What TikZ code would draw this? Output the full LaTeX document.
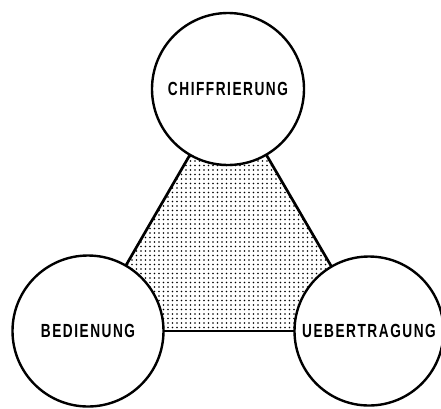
\documentclass[tikz,border=0pt]{standalone}
\usepackage{fontspec}
\newfontfamily\labelfont[FakeStretch=0.72,LetterSpace=8]{Liberation Sans}
\usetikzlibrary{backgrounds}
\tikzset{
  unit/.style={circle, draw=black, line width=2.4pt, fill=white,
    inner sep=0pt, text height=13.6pt, text depth=0pt,
    font=\labelfont\bfseries\fontsize{19}{19}\selectfont},
  edge/.style={draw=black, line width=2.7pt, line join=miter},
  dot/.style={fill=black}
}
\begin{document}
\begin{tikzpicture}[x=1pt, y=-1pt]
  \useasboundingbox (0,0) rectangle (441,408);

  % the three units
  \node[unit, minimum size=152pt] (chiff) at (228,89) {CHIFFRIERUNG};
  \node[unit, minimum size=151pt] (bed)   at (88,331)  {BEDIENUNG};
  \node[unit, minimum size=149pt] (ueb)   at (369,331) {UEBERTRAGUNG};

  % dotted triangle linking the units, behind them
  \begin{scope}[on background layer]
    \begin{scope}
      \clip (chiff.center) -- (bed.center) -- (ueb.center) -- cycle;
      \foreach \i in {0,...,64} {
        \foreach \j in {0,...,55} {
          \fill[dot] (87+\i*4.5, 89+\j*4.5) circle (0.85);
        }
      }
    \end{scope}
    \draw[edge] (chiff.center) -- (bed.center);
    \draw[edge] (bed.center) -- (ueb.center);
    \draw[edge] (ueb.center) -- (chiff.center);
  \end{scope}
\end{tikzpicture}
\end{document}
